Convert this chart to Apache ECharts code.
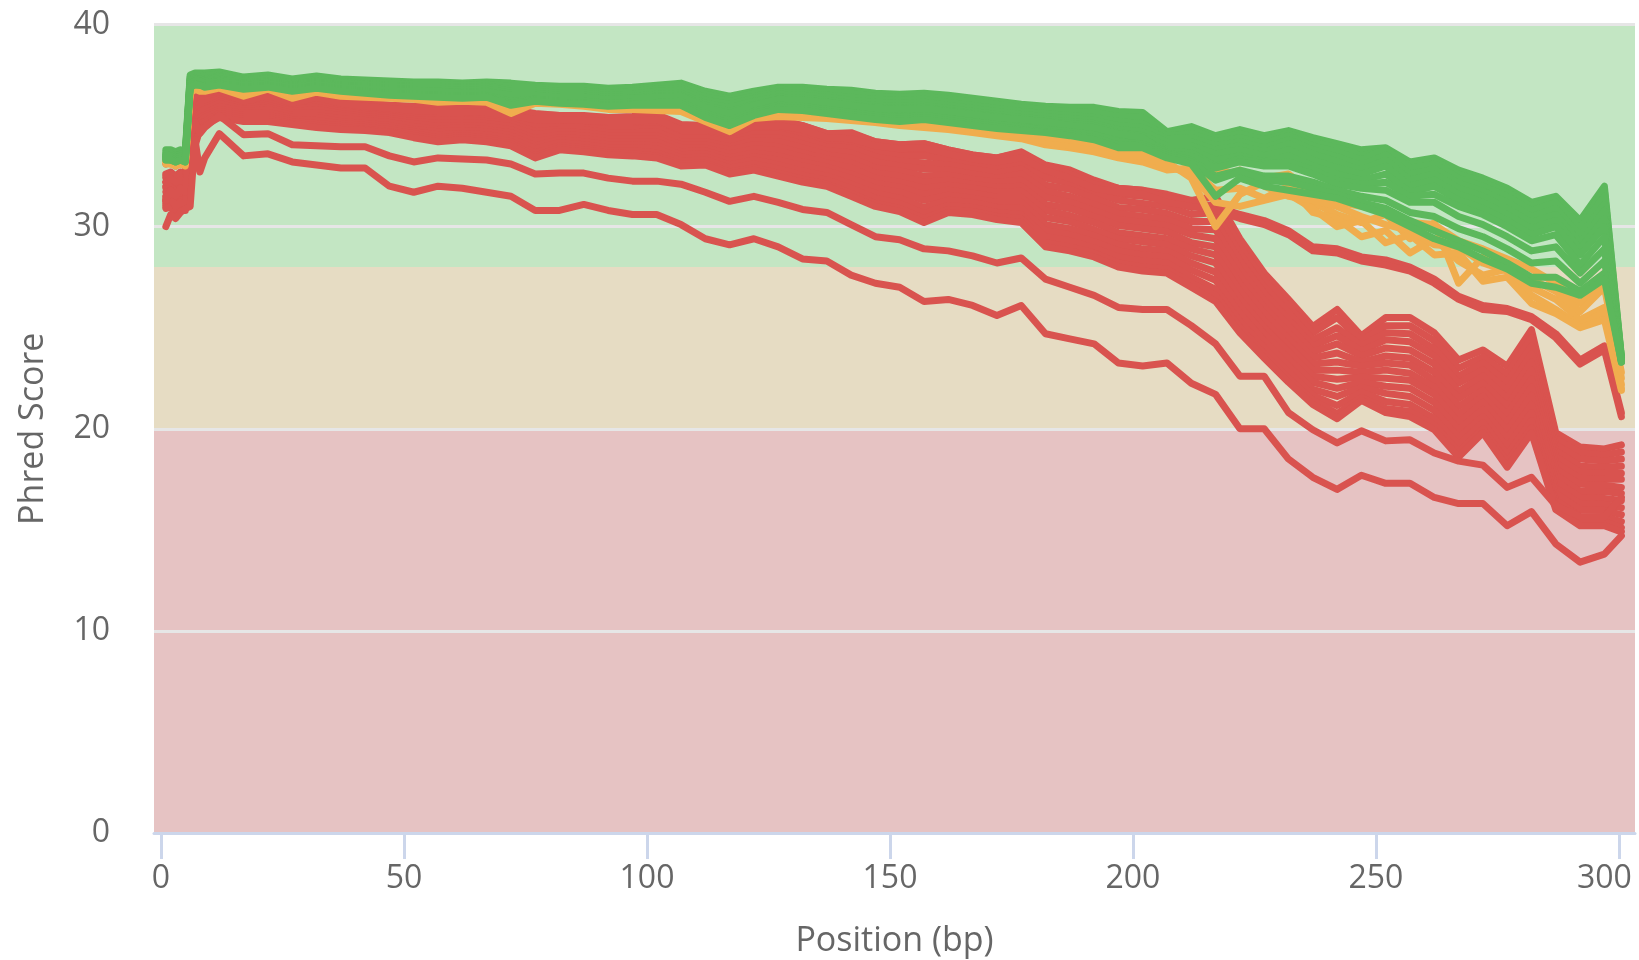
<!DOCTYPE html>
<html>
<head>
<meta charset="utf-8">
<title>Per Base Sequence Quality</title>
<script src="https://cdn.jsdelivr.net/npm/echarts@6/dist/echarts.min.js"></script>
<style>
  html, body { margin: 0; padding: 0; background: #ffffff; overflow: hidden; }
  #chart { width: 1639px; height: 960px; }
</style>
</head>
<body>
<div id="chart"></div>
<script>
// Base positions (bp): first nine individually, then 5 bp bins by midpoint
const positions = [1,2,3,4,5,6,7,8,9,
  12,17,22,27,32,37,42,47,52,57,
  62,67,72,77,82,87,92,97,102,107,
  112,117,122,127,132,137,142,147,152,157,
  162,167,172,177,182,187,192,197,202,207,
  212,217,222,227,232,237,242,247,252,257,
  262,267,272,277,282,287,292,297,300.5];

const xTicks = [0, 50, 100, 150, 200, 250, 300];
const yTicks = [0, 10, 20, 30, 40];

// Quality thresholds (Phred)
const failBand = [0, 20];
const warnBand = [20, 28];
const passBand = [28, 40];

// ---- samples passing (green) ----
const pass1 = [33.8,33.8,33.7,33.8,33.7,37.5,37.6,37.6,37.6,
  37.65,37.4,37.5,37.3,37.45,37.3,37.25,37.2,37.15,37.15,
  37.1,37.15,37.1,37.0,36.95,36.95,36.85,36.9,37.0,37.1,
  36.7,36.45,36.7,36.9,36.9,36.8,36.75,36.6,36.55,36.6,
  36.5,36.35,36.2,36.05,35.95,35.9,35.9,35.7,35.65,34.7,
  34.95,34.5,34.8,34.5,34.75,34.4,34.1,33.8,33.9,33.2,
  33.4,32.8,32.4,31.9,31.2,31.5,30.3,32.0,23.6];
const pass2 = [33.6,33.6,33.5,33.6,33.5,37.3,37.4,37.4,37.3,
  37.45,37.25,37.35,37.1,37.3,37.15,37.1,37.0,36.95,36.95,
  36.9,36.95,36.8,36.8,36.7,36.7,36.6,36.7,36.8,36.85,
  36.4,36.2,36.45,36.65,36.6,36.5,36.4,36.3,36.25,36.3,
  36.15,36.0,35.85,35.7,35.6,35.5,35.4,35.2,35.1,34.5,
  34.6,34.2,34.4,34.1,34.5,34.0,33.7,33.3,33.85,32.9,
  33.1,32.4,32.0,31.5,30.8,31.2,29.9,31.5,23.5];
const pass3 = [33.5,33.4,33.4,33.5,33.4,37.2,37.3,37.2,37.2,
  37.3,37.1,37.2,37.0,37.15,37.0,36.95,36.85,36.8,36.8,
  36.75,36.8,36.6,36.6,36.5,36.5,36.4,36.45,36.55,36.6,
  36.1,35.9,36.2,36.4,36.35,36.25,36.1,36.0,35.95,36.0,
  35.85,35.7,35.55,35.4,35.3,35.2,35.1,34.8,34.7,34.2,
  34.2,33.8,34.0,33.7,34.1,33.6,33.2,32.8,33.3,32.3,
  32.6,31.9,31.5,30.9,30.2,30.6,29.2,30.8,23.4];
const pass4 = [33.4,33.3,33.3,33.4,33.3,37.0,37.1,37.1,37.0,
  37.15,36.95,37.05,36.85,37.0,36.85,36.8,36.7,36.65,36.6,
  36.55,36.6,36.4,36.4,36.3,36.3,36.2,36.25,36.3,36.35,
  35.8,35.5,35.9,36.15,36.1,36.0,35.85,35.7,35.65,35.7,
  35.55,35.4,35.25,35.1,35.0,34.9,34.8,34.5,34.3,33.8,
  33.8,33.3,33.5,33.2,33.5,33.0,32.6,32.3,32.6,31.7,
  32.0,31.3,30.9,30.3,29.6,30.0,28.6,30.0,23.4];
const pass5 = [33.3,33.3,33.2,33.3,33.2,36.9,37.0,37.0,36.9,
  37.0,36.8,36.9,36.7,36.85,36.7,36.6,36.5,36.45,36.4,
  36.35,36.4,36.0,36.2,36.1,36.05,35.95,36.0,36.0,36.0,
  35.4,35.0,35.5,35.8,35.75,35.6,35.45,35.3,35.2,35.3,
  35.15,35.0,34.85,34.75,34.65,34.5,34.3,33.9,33.9,33.4,
  33.1,31.5,32.4,32.0,31.8,31.6,31.4,31.0,30.6,30.0,
  29.4,29.0,28.4,27.9,27.2,27.0,26.6,27.4,23.3];
const pass6 = [33.5,33.5,33.4,33.5,33.4,37.1,37.2,37.2,37.1,
  37.2,37.0,37.1,36.9,37.05,36.9,36.85,36.75,36.7,36.7,
  36.6,36.65,36.5,36.5,36.4,36.4,36.3,36.35,36.4,36.45,
  35.9,35.6,36.0,36.3,36.25,36.15,36.0,35.85,35.8,35.85,
  35.7,35.55,35.4,35.3,35.2,35.0,34.9,34.6,34.4,33.6,
  33.5,32.9,33.2,33.0,33.0,32.6,32.1,31.9,31.8,31.2,
  31.2,30.5,30.1,29.5,28.8,29.0,27.7,28.9,23.3];
const pass7 = [33.4,33.4,33.3,33.4,33.3,37.0,37.1,37.0,37.0,
  37.1,36.9,37.0,36.8,36.95,36.8,36.7,36.6,36.55,36.5,
  36.45,36.5,36.2,36.3,36.2,36.2,36.1,36.15,36.15,36.2,
  35.6,35.25,35.7,36.0,35.95,35.8,35.65,35.5,35.4,35.5,
  35.35,35.2,35.05,34.9,34.8,34.7,34.55,34.2,34.1,33.6,
  33.3,32.5,32.8,32.5,32.5,32.2,31.8,31.5,31.3,30.7,
  30.5,29.9,29.5,28.9,28.2,28.3,27.2,28.3,23.4];
const pass8 = [33.4,33.4,33.3,33.4,33.3,37.0,37.1,37.1,37.0,
  37.15,36.95,37.05,36.85,37.0,36.85,36.8,36.7,36.65,36.65,
  36.55,36.6,36.45,36.45,36.35,36.35,36.25,36.3,36.35,36.4,
  35.85,35.55,35.95,36.2,36.15,36.05,35.9,35.8,35.7,35.75,
  35.6,35.45,35.3,35.2,35.1,34.95,34.85,34.55,34.35,33.7,
  33.65,33.0,33.35,33.1,33.2,32.8,32.3,32.1,32.2,31.5,
  31.6,31.0,30.6,30.0,29.3,29.6,28.1,29.5,23.4];
const pass9 = [33.5,33.4,33.4,33.5,33.4,37.1,37.2,37.2,37.1,
  37.25,37.05,37.15,36.95,37.1,36.95,36.9,36.8,36.75,36.7,
  36.65,36.7,36.5,36.5,36.4,36.4,36.3,36.35,36.45,36.5,
  36.0,35.7,36.05,36.3,36.25,36.15,36.0,35.9,35.85,35.9,
  35.75,35.6,35.45,35.3,35.2,35.1,35.0,34.65,34.5,34.0,
  34.0,33.6,33.8,33.5,33.8,33.3,32.9,32.6,33.0,32.0,
  32.3,31.6,31.2,30.6,29.9,30.3,28.9,30.4,23.4];
const pass10 = [33.6,33.5,33.5,33.6,33.5,37.25,37.35,37.3,37.25,
  37.4,37.2,37.3,37.05,37.2,37.1,37.05,36.95,36.9,36.9,
  36.85,36.9,36.7,36.7,36.6,36.6,36.5,36.55,36.7,36.75,
  36.25,36.05,36.35,36.55,36.5,36.4,36.25,36.15,36.1,36.15,
  36.0,35.85,35.7,35.55,35.45,35.35,35.25,35.0,34.9,34.35,
  34.4,34.0,34.2,33.9,34.3,33.8,33.45,33.05,33.55,32.6,
  32.85,32.15,31.75,31.2,30.5,30.9,29.55,31.1,23.5];
const pass11 = [33.3,33.3,33.2,33.3,33.2,36.95,37.05,37.0,36.95,
  37.05,36.85,36.95,36.75,36.9,36.75,36.65,36.55,36.5,36.45,
  36.4,36.45,36.1,36.25,36.15,36.1,36.0,36.05,36.1,36.1,
  35.5,35.1,35.6,35.9,35.85,35.7,35.55,35.4,35.3,35.4,
  35.25,35.1,34.95,34.8,34.7,34.6,34.4,34.05,34.0,33.5,
  33.2,32.3,32.7,32.3,32.2,31.9,31.6,31.2,30.9,30.3,
  29.8,29.3,28.8,28.2,27.5,27.5,26.8,27.7,23.3];
const pass12 = [33.7,33.7,33.6,33.7,33.6,37.4,37.5,37.5,37.45,
  37.55,37.3,37.45,37.2,37.4,37.2,37.2,37.1,37.05,37.05,
  37.0,37.05,36.95,36.9,36.85,36.85,36.75,36.8,36.9,37.0,
  36.55,36.3,36.6,36.8,36.75,36.65,36.6,36.45,36.4,36.45,
  36.3,36.2,36.05,35.9,35.8,35.7,35.65,35.45,35.4,34.6,
  34.8,34.35,34.6,34.3,34.6,34.2,33.9,33.5,33.85,33.05,
  33.25,32.6,32.2,31.7,31.0,31.35,30.1,31.8,23.5];

// ---- samples with warnings (orange) ----
const warn1 = [33.3,33.3,33.2,33.3,33.2,36.8,37.0,36.9,36.9,
  37.0,36.6,36.95,36.5,36.8,36.6,36.55,36.5,36.45,36.3,
  36.35,36.3,35.75,36.25,36.2,36.1,35.95,35.95,35.9,35.85,
  35.35,34.85,35.65,35.8,35.75,35.7,35.6,35.5,35.45,35.35,
  35.25,35.1,35.0,34.85,34.6,34.5,34.3,33.95,33.9,33.5,
  33.5,32.8,32.6,32.4,32.6,31.7,31.2,31.0,30.8,30.2,
  30.1,29.3,28.9,28.4,27.9,27.2,26.2,27.2,22.5];
const warn2 = [33.2,33.2,33.1,33.2,33.1,36.7,36.9,36.8,36.8,
  36.9,36.5,36.85,36.4,36.7,36.5,36.45,36.4,36.35,36.2,
  36.25,36.2,35.65,36.15,36.1,36.0,35.85,35.85,35.8,35.75,
  35.25,34.75,35.5,35.6,35.55,35.5,35.4,35.3,35.2,35.1,
  35.0,34.85,34.7,34.55,34.3,34.15,33.95,33.7,33.6,33.2,
  32.4,30.0,31.6,32.2,32.4,31.2,30.6,30.2,30.6,29.4,
  30.2,27.2,28.5,28.0,27.0,26.4,25.4,26.0,22.2];
const warn3 = [33.1,33.1,33.0,33.1,33.0,36.6,36.8,36.7,36.7,
  36.85,36.45,36.8,36.35,36.65,36.45,36.4,36.35,36.3,36.15,
  36.2,36.15,35.6,36.1,36.05,35.95,35.8,35.8,35.75,35.7,
  35.2,34.7,35.35,35.45,35.4,35.35,35.25,35.15,35.0,34.9,
  34.8,34.65,34.5,34.35,34.05,33.9,33.7,33.4,33.2,32.8,
  32.9,31.8,31.9,31.4,32.0,30.7,30.4,29.5,29.8,28.7,
  29.4,28.3,27.6,27.9,26.6,25.9,25.1,25.8,22.0];
const warn4 = [33.2,33.1,33.1,33.2,33.1,36.7,36.85,36.8,36.75,
  36.9,36.5,36.9,36.45,36.7,36.5,36.5,36.4,36.35,36.25,
  36.3,36.2,35.7,36.2,36.1,36.05,35.9,35.9,35.8,35.8,
  35.3,34.8,35.45,35.55,35.5,35.4,35.3,35.2,35.1,35.0,
  34.9,34.75,34.6,34.45,34.2,34.0,33.8,33.55,33.5,33.0,
  32.6,31.2,31.0,31.3,31.6,30.9,30.0,30.3,29.2,29.6,
  28.6,28.7,27.3,27.5,26.2,25.7,25.0,25.4,21.9];
const warn5 = [33.3,33.2,33.2,33.3,33.2,36.8,36.95,36.85,36.85,
  36.95,36.55,36.9,36.45,36.75,36.55,36.5,36.45,36.4,36.25,
  36.3,36.25,35.7,36.2,36.15,36.05,35.9,35.9,35.85,35.8,
  35.3,34.8,35.55,35.7,35.65,35.6,35.5,35.4,35.3,35.2,
  35.1,34.95,34.85,34.7,34.45,34.3,34.1,33.8,33.9,33.6,
  33.2,32.4,32.8,32.0,31.5,31.3,31.0,30.5,30.1,29.8,
  29.1,29.0,28.2,27.8,27.4,26.8,25.8,27.0,22.8];

// ---- samples failing (red) ----
const fail1 = [33.1,33.2,33.0,33.2,33.1,36.5,36.9,36.9,36.8,
  36.95,36.5,36.8,36.35,36.6,36.35,36.1,36.0,35.95,35.95,
  35.95,35.9,35.8,35.6,35.5,35.5,35.4,35.45,35.55,35.05,
  35.0,34.9,35.2,35.3,35.0,34.6,34.65,34.2,34.05,34.1,
  33.8,33.55,33.4,33.7,33.05,32.8,32.3,31.9,31.8,31.6,
  31.3,31.5,29.4,27.7,26.4,25.05,25.9,24.6,25.5,25.5,
  24.75,23.4,23.9,23.1,24.9,19.8,19.1,19.0,19.2];
const fail2 = [32.6,32.7,32.5,32.7,32.6,36.3,36.7,36.7,36.7,
  36.8,36.4,36.7,36.25,36.5,36.2,36.0,35.9,35.8,35.8,
  35.8,35.75,35.65,35.4,35.35,35.35,35.25,35.3,35.4,34.9,
  34.85,34.7,35.0,35.1,34.8,34.4,34.4,33.95,33.8,33.8,
  33.55,33.3,33.15,33.4,32.7,32.5,32.0,31.6,31.5,31.3,
  30.95,31.1,29.0,27.35,26.05,24.75,25.5,24.35,25.1,25.1,
  24.35,23.0,23.55,22.7,24.5,19.5,18.8,18.7,18.85];
const fail3 = [32.4,32.5,32.3,32.5,32.4,36.2,36.4,36.6,36.5,
  36.7,36.3,36.55,36.15,36.3,36.1,35.9,35.8,35.7,35.7,
  35.7,35.6,35.5,35.25,35.2,35.2,35.1,35.15,35.2,34.7,
  34.7,34.5,34.8,34.85,34.55,34.2,34.15,33.7,33.5,33.5,
  33.3,33.05,32.9,33.15,32.4,32.15,31.7,31.3,31.15,31.0,
  30.6,30.7,28.65,27.0,25.75,24.4,25.0,24.1,24.75,24.7,
  23.95,22.6,23.25,22.3,24.1,19.2,18.5,18.4,18.5];
const fail4 = [32.2,32.4,32.1,32.3,32.2,36.0,36.2,36.4,36.4,
  36.6,36.2,36.4,36.05,36.2,36.0,35.8,35.7,35.6,35.5,
  35.55,35.5,35.35,35.1,35.1,35.05,34.95,35.0,35.05,34.55,
  34.55,34.35,34.6,34.6,34.3,33.95,33.9,33.45,33.25,33.15,
  33.05,32.85,32.65,32.85,32.05,31.85,31.4,30.95,30.85,30.65,
  30.25,30.25,28.3,26.7,25.4,24.1,24.6,23.85,24.4,24.3,
  23.6,22.25,22.9,21.9,23.7,18.9,18.15,18.1,18.15];
const fail5 = [32.0,32.2,31.9,32.1,32.0,35.9,36.0,36.2,36.2,
  36.45,36.1,36.3,35.9,36.05,35.85,35.65,35.55,35.45,35.4,
  35.4,35.35,35.2,34.9,34.95,34.9,34.8,34.8,34.85,34.4,
  34.4,34.15,34.4,34.4,34.1,33.75,33.65,33.2,33.0,32.85,
  32.8,32.6,32.4,32.6,31.75,31.5,31.1,30.65,30.5,30.35,
  29.9,29.85,27.9,26.35,25.1,23.8,24.2,23.6,24.0,23.9,
  23.2,21.85,22.6,21.5,23.3,18.6,17.85,17.8,17.8];
const fail6 = [31.9,32.0,31.7,31.9,31.8,35.7,35.7,36.1,36.1,
  36.3,36.0,36.2,35.85,35.9,35.7,35.55,35.45,35.3,35.25,
  35.3,35.2,35.1,34.7,34.8,34.8,34.65,34.65,34.7,34.2,
  34.2,33.95,34.25,34.2,33.9,33.55,33.4,32.9,32.75,32.5,
  32.55,32.35,32.2,32.3,31.45,31.2,30.8,30.35,30.2,30.05,
  29.6,29.4,27.55,26.0,24.75,23.5,23.75,23.3,23.6,23.5,
  22.8,21.5,22.25,21.1,22.9,18.3,17.55,17.5,17.5];
const fail7 = [31.7,31.8,31.5,31.7,31.6,35.5,35.5,35.9,35.9,
  36.2,35.9,36.0,35.7,35.8,35.6,35.45,35.35,35.2,35.1,
  35.15,35.1,34.95,34.55,34.7,34.65,34.5,34.5,34.5,34.05,
  34.05,33.8,34.05,33.95,33.65,33.35,33.15,32.65,32.5,32.2,
  32.3,32.1,31.95,32.0,31.1,30.9,30.5,30.05,29.9,29.75,
  29.2,29.0,27.15,25.7,24.45,23.2,23.3,23.1,23.25,23.15,
  22.4,21.1,21.9,20.7,22.45,18.0,17.25,17.2,17.1];
const fail8 = [31.5,31.7,31.4,31.6,31.5,35.4,35.3,35.7,35.8,
  36.1,35.8,35.9,35.6,35.65,35.5,35.35,35.25,35.1,34.95,
  35.0,34.95,34.8,34.35,34.55,34.5,34.35,34.35,34.35,33.9,
  33.9,33.6,33.85,33.75,33.45,33.15,32.9,32.4,32.2,31.9,
  32.05,31.9,31.7,31.75,30.8,30.55,30.2,29.7,29.55,29.4,
  28.9,28.6,26.8,25.35,24.1,22.9,22.9,22.8,22.9,22.75,
  22.05,20.7,21.6,20.3,22.05,17.7,16.9,16.9,16.8];
const fail9 = [31.4,31.5,31.2,31.4,31.3,35.2,35.0,35.6,35.6,
  35.95,35.7,35.8,35.5,35.5,35.35,35.25,35.15,34.95,34.8,
  34.9,34.8,34.65,34.2,34.4,34.35,34.2,34.2,34.2,33.7,
  33.75,33.4,33.65,33.5,33.2,32.95,32.6,32.15,31.95,31.6,
  31.8,31.65,31.45,31.45,30.45,30.25,29.85,29.4,29.25,29.1,
  28.55,28.2,26.4,25.0,23.8,22.6,22.45,22.55,22.5,22.4,
  21.7,20.3,21.3,19.9,21.65,17.4,16.6,16.55,16.45];
const fail10 = [31.2,31.3,31.0,31.3,31.2,35.1,34.8,35.4,35.5,
  35.8,35.6,35.65,35.4,35.4,35.2,35.1,35.0,34.8,34.7,
  34.75,34.7,34.5,34.0,34.3,34.2,34.05,34.05,34.0,33.55,
  33.6,33.25,33.45,33.3,33.0,32.75,32.4,31.9,31.7,31.3,
  31.55,31.4,31.2,31.2,30.1,29.9,29.55,29.1,28.9,28.8,
  28.2,27.75,26.05,24.7,23.45,22.3,22.0,22.3,22.1,22.0,
  21.3,19.95,20.95,19.5,21.2,17.05,16.3,16.25,16.1];
const fail11 = [31.1,31.2,30.9,31.1,31.0,34.9,34.6,35.2,35.4,
  35.7,35.5,35.5,35.3,35.25,35.1,35.0,34.9,34.7,34.55,
  34.6,34.55,34.35,33.85,34.15,34.05,33.9,33.9,33.85,33.4,
  33.45,33.05,33.3,33.05,32.75,32.5,32.1,31.65,31.4,30.95,
  31.3,31.2,30.95,30.9,29.8,29.6,29.25,28.8,28.6,28.5,
  27.85,27.35,25.7,24.35,23.1,21.95,21.6,22.05,21.75,21.6,
  20.9,19.55,20.6,19.1,20.8,16.8,16.0,15.95,15.75];
const fail12 = [31.0,31.1,30.7,30.9,30.9,34.7,34.3,35.1,35.2,
  35.6,35.4,35.4,35.2,35.1,35.0,34.9,34.8,34.6,34.4,
  34.5,34.4,34.2,33.65,34.0,33.9,33.75,33.75,33.65,33.25,
  33.3,32.9,33.1,32.85,32.55,32.3,31.9,31.4,31.15,30.65,
  31.05,30.95,30.7,30.6,29.5,29.3,28.95,28.5,28.3,28.2,
  27.5,26.9,25.3,24.0,22.8,21.65,21.15,21.8,21.35,21.2,
  20.5,19.2,20.3,18.7,20.4,16.45,15.65,15.65,15.4];
const fail13 = [30.9,31.0,30.6,30.8,30.8,34.6,34.1,34.9,35.1,
  35.5,35.3,35.3,35.1,35.0,34.9,34.8,34.7,34.5,34.3,
  34.4,34.3,34.1,33.5,33.9,33.8,33.65,33.6,33.5,33.1,
  33.15,32.7,32.9,32.65,32.35,32.1,31.65,31.15,30.9,30.4,
  30.85,30.75,30.5,30.4,29.2,29.0,28.7,28.2,28.0,27.9,
  27.2,26.6,25.0,23.7,22.5,21.4,20.75,21.55,21.0,20.85,
  20.2,18.85,20.0,18.35,20.05,16.2,15.4,15.4,15.1];
const fail14 = [31.3,31.4,31.0,31.2,31.1,34.5,34.0,34.8,35.0,
  35.4,35.2,35.2,35.05,34.9,34.8,34.75,34.65,34.4,34.2,
  34.3,34.2,34.0,33.4,33.8,33.7,33.55,33.5,33.4,33.0,
  33.05,32.6,32.8,32.5,32.2,32.0,31.5,31.0,30.75,30.2,
  30.7,30.6,30.35,30.2,29.0,28.8,28.5,28.0,27.8,27.7,
  27.0,26.3,24.75,23.5,22.3,21.2,20.5,21.4,20.8,20.6,
  19.95,18.6,19.8,18.1,19.8,16.0,15.2,15.2,14.9];
const failHigh1 = [32.5,32.6,32.4,32.6,32.5,36.0,36.8,36.9,36.8,
  36.9,36.4,36.7,36.3,36.6,36.3,36.1,36.0,35.9,35.9,
  35.9,35.85,35.75,35.55,35.5,35.45,35.4,35.4,35.5,35.0,
  35.0,34.85,35.2,35.25,35.0,34.6,34.6,34.2,34.05,34.1,
  33.8,33.55,33.4,33.65,33.0,32.6,32.1,31.9,31.8,31.4,
  31.2,31.0,30.6,30.3,29.8,29.0,28.9,28.5,28.35,28.0,
  27.4,26.55,26.1,25.95,25.55,24.7,23.4,24.1,20.8];
const failHigh2 = [32.2,32.4,32.2,32.3,32.2,35.8,36.5,36.6,36.6,
  36.7,36.2,36.5,36.1,36.4,36.1,35.95,35.85,35.75,35.7,
  35.7,35.65,35.5,35.3,35.3,35.25,35.2,35.2,35.3,34.8,
  34.8,34.6,34.95,35.0,34.8,34.4,34.35,34.0,33.85,33.9,
  33.6,33.35,33.2,33.4,32.8,32.4,31.9,31.7,31.6,31.2,
  31.0,30.8,30.4,30.1,29.6,28.8,28.7,28.3,28.1,27.8,
  27.2,26.4,25.9,25.8,25.4,24.5,23.2,23.9,20.6];
const failLow1 = [31.3,31.8,31.5,31.9,31.7,34.5,35.2,34.6,34.9,
  35.5,34.55,34.6,34.05,34.0,33.95,33.95,33.5,33.2,33.4,
  33.35,33.3,33.1,32.6,32.65,32.65,32.4,32.25,32.25,32.1,
  31.7,31.25,31.5,31.2,30.85,30.7,30.1,29.5,29.35,28.9,
  28.8,28.55,28.2,28.45,27.4,27.0,26.6,26.0,25.9,25.9,
  25.1,24.2,22.6,22.6,20.8,19.95,19.3,19.9,19.4,19.45,
  18.8,18.4,18.2,17.1,17.6,16.2,15.65,15.65,16.6];
const failLow2 = [30.0,30.6,30.4,30.7,30.9,31.0,34.3,32.7,33.4,
  34.6,33.5,33.6,33.2,33.05,32.9,32.9,32.0,31.7,32.0,
  31.9,31.7,31.5,30.8,30.8,31.1,30.8,30.6,30.6,30.1,
  29.4,29.1,29.4,29.0,28.4,28.3,27.6,27.2,27.0,26.3,
  26.4,26.1,25.6,26.1,24.7,24.45,24.2,23.25,23.1,23.25,
  22.25,21.7,20.0,20.0,18.5,17.6,17.0,17.7,17.3,17.3,
  16.6,16.3,16.3,15.2,15.9,14.3,13.4,13.8,14.7];

const passSamples = [pass1, pass12, pass2, pass10, pass3, pass9, pass4, pass8, pass6, pass7, pass11, pass5];
const warnSamples = [warn1, warn2, warn3, warn4, warn5];
const failSamples = [fail1, fail2, fail3, fail4, fail5, fail6, fail7, fail8, fail9,
  fail10, fail11, fail12, fail13, fail14, failHigh1, failHigh2, failLow1, failLow2];

const COLORS = { pass: '#5cb85c', warn: '#f0ad4e', fail: '#d9534f' };
const FONT = 'Open Sans';
const TEXT = '#666666';

function lineSeries(values, color) {
  return {
    type: 'line',
    data: positions.map((x, i) => [x, values[i]]),
    showSymbol: false,
    symbol: 'none',
    silent: true,
    z: 3,
    lineStyle: { color: color, width: 7, cap: 'round', join: 'round' },
    emphasis: { disabled: true },
    animation: false
  };
}

// Background quality bands sit beneath the grid lines
const bandSeries = {
  type: 'line',
  data: [[positions[0], null]],
  showSymbol: false,
  silent: true,
  z: 0,
  lineStyle: { opacity: 0 },
  animation: false,
  markArea: {
    silent: true,
    animation: false,
    data: [
      [{ yAxis: passBand[0], itemStyle: { color: '#c3e6c3', opacity: 1 } }, { yAxis: passBand[1] }],
      [{ yAxis: warnBand[0], itemStyle: { color: '#e6dcc3', opacity: 1 } }, { yAxis: warnBand[1] }],
      [{ yAxis: failBand[0], itemStyle: { color: '#e6c3c3', opacity: 1 } }, { yAxis: failBand[1] }]
    ]
  }
};

const series = [bandSeries]
  .concat(failSamples.map(v => lineSeries(v, COLORS.fail)))
  .concat(warnSamples.map(v => lineSeries(v, COLORS.warn)))
  .concat(passSamples.map(v => lineSeries(v, COLORS.pass)));

const lastTick = xTicks[xTicks.length - 1];

const chart = echarts.init(document.getElementById('chart'), null, { renderer: 'canvas' });
chart.setOption({
  animation: false,
  backgroundColor: '#ffffff',
  textStyle: { fontFamily: FONT },
  grid: { left: 154, right: 4, top: 24.5, bottom: 127, containLabel: false, outerBoundsMode: 'none' },
  xAxis: {
    type: 'value',
    min: -1.44,
    max: 303.3,
    z: 2,
    name: 'Position (bp)',
    nameLocation: 'middle',
    nameGap: 91,
    nameTextStyle: { fontFamily: FONT, fontSize: 34, color: TEXT },
    axisLine: { show: true, lineStyle: { color: '#ccd6eb', width: 3 } },
    axisTick: { show: true, length: 26, customValues: xTicks, lineStyle: { color: '#ccd6eb', width: 3 } },
    axisLabel: {
      customValues: xTicks,
      fontFamily: FONT, fontSize: 32, color: TEXT, margin: 30,
      // keep the last label inside the chart edge
      formatter: v => (v === lastTick ? '{edge|' + v + '}' : String(v)),
      rich: { edge: { fontFamily: FONT, fontSize: 32, color: TEXT, padding: [0, 29, 0, 0] } }
    },
    splitLine: { show: false }
  },
  yAxis: {
    type: 'value',
    min: yTicks[0],
    max: yTicks[yTicks.length - 1],
    interval: 10,
    z: 2,
    name: 'Phred Score',
    nameLocation: 'middle',
    nameGap: 104,
    nameRotate: 90,
    nameTextStyle: { fontFamily: FONT, fontSize: 34, color: TEXT },
    axisLine: { show: false },
    axisTick: { show: false },
    axisLabel: { fontFamily: FONT, fontSize: 32, color: TEXT, margin: 44 },
    splitLine: { show: true, lineStyle: { color: '#e6e6e6', width: 3 } }
  },
  series: series
});
</script>
</body>
</html>
